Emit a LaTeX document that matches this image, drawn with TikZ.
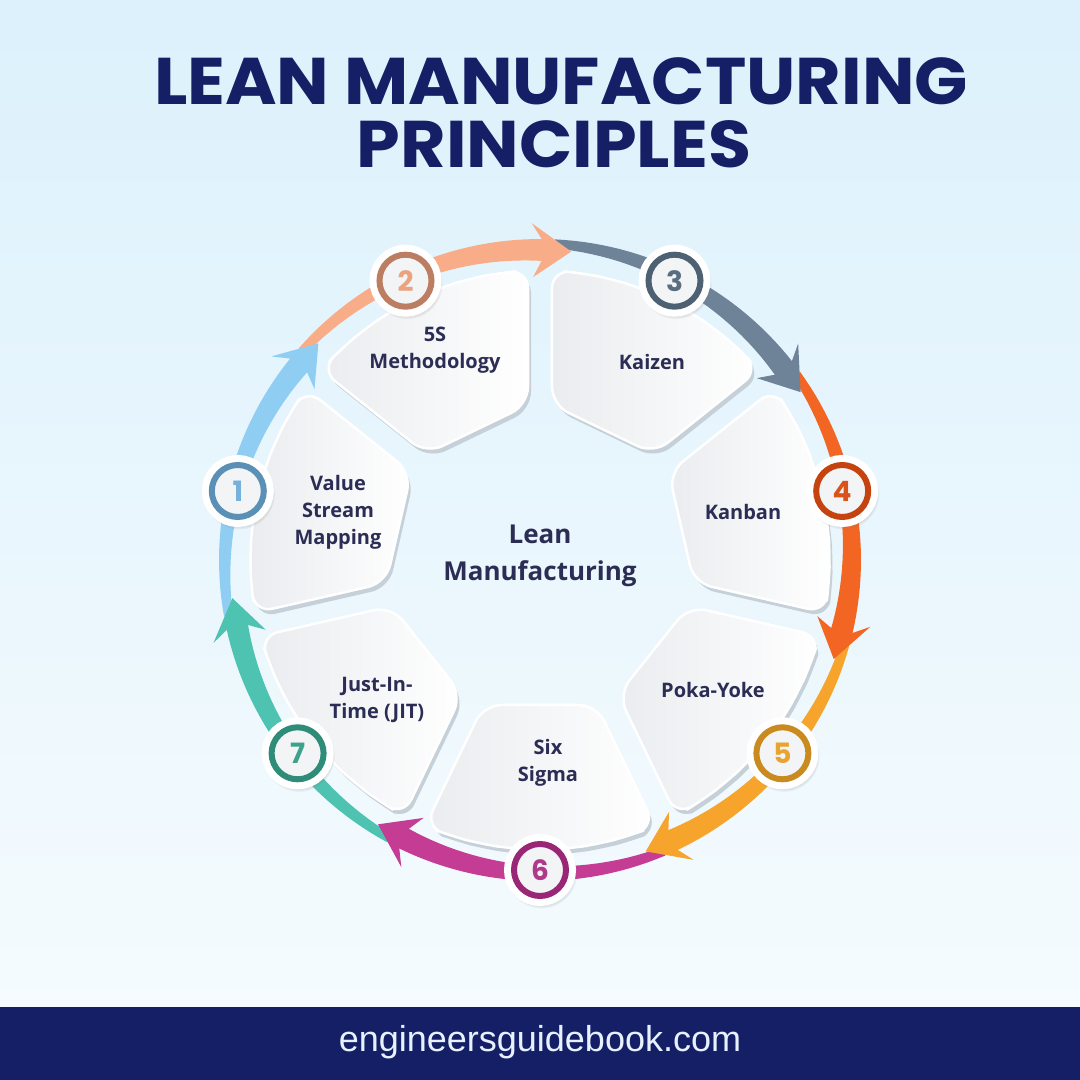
\documentclass[tikz,border=0pt]{standalone}
\usepackage{fontspec}
\setmainfont{Open Sans}
\newfontfamily\titlefont{Poppins}
\newfontfamily\widetitlefont{Poppins}[FakeStretch=1.06]
\newfontfamily\webfont{Liberation Sans}
\usetikzlibrary{shadows}
\pgfdeclarelayer{bglayer}
\pgfdeclarelayer{arclayer}
\pgfdeclarelayer{headlayer}
\pgfdeclarelayer{cardlayer}
\pgfsetlayers{bglayer,arclayer,headlayer,cardlayer,main}
\definecolor{bgtop}{HTML}{DCF1FC}
\definecolor{bgbottom}{HTML}{F5FBFE}
\definecolor{navy}{HTML}{141F66}
\definecolor{inknavy}{HTML}{2B2D55}
\definecolor{webtext}{HTML}{E8F1FF}
\definecolor{cardgray}{HTML}{EAECEF}
\definecolor{cardedge}{HTML}{C6D0D8}
\definecolor{badgefill}{HTML}{F2F4F6}
\definecolor{arcone}{HTML}{8FCDF2}
\definecolor{arctwo}{HTML}{F8AD88}
\definecolor{arcthree}{HTML}{6E8398}
\definecolor{arcfour}{HTML}{F26522}
\definecolor{arcfive}{HTML}{F6A42B}
\definecolor{arcsix}{HTML}{C43C94}
\definecolor{arcseven}{HTML}{4EC3B1}
\definecolor{ringone}{HTML}{5A90B5}
\definecolor{ringtwo}{HTML}{BC7E63}
\definecolor{ringthree}{HTML}{4E6173}
\definecolor{ringfour}{HTML}{C4430F}
\definecolor{ringfive}{HTML}{C98A1F}
\definecolor{ringsix}{HTML}{9A2676}
\definecolor{ringseven}{HTML}{2E8C79}
\definecolor{numone}{HTML}{74B1DB}
\definecolor{numtwo}{HTML}{EBA27F}
\definecolor{numthree}{HTML}{5A6E82}
\definecolor{numfour}{HTML}{D9541A}
\definecolor{numfive}{HTML}{E8A331}
\definecolor{numsix}{HTML}{B03A8A}
\definecolor{numseven}{HTML}{3FA08C}
\newcommand{\cardpath}{(145,-56.5) -- (266.3,-114.9) -- (-17.5:290) -- (-11.67:290) -- (-5.83:290) -- (0:290) -- (5.83:290) -- (11.67:290) -- (17.5:290) -- (266.3,114.9) -- (145,56.5) -- cycle}
\newcommand{\arcbody}{plot[domain=23:-26.5, samples=30] (\x:321) -- plot[domain=-26.5:23, samples=30] (\x:{299+13*(\x+26.5)/49.5}) -- cycle}
\newcommand{\archead}{(-26:321) -- (-24.3:337) -- (-31.5:310) -- (-24.3:283) -- (-26:299) -- cycle}
\tikzstyle{card}=[rounded corners=18, left color=cardgray, right color=white, draw=white, line width=2.5, drop shadow={shadow xshift=3, shadow yshift=-5, opacity=1, fill=cardedge}]
\tikzstyle{cardtext}=[text=inknavy, align=center, font=\bfseries\fontsize{20}{27}\selectfont]
\tikzstyle{badge}=[circle, minimum size=52, inner sep=0pt, line width=6, fill=badgefill, circular drop shadow={shadow scale=1.38, shadow xshift=1, shadow yshift=-2, opacity=0.35}, preaction={draw=white, line width=20}, font=\titlefont\bfseries\fontsize{28}{28}\selectfont]
\tikzstyle{title}=[text=navy, anchor=base, inner sep=0pt, font=\widetitlefont\bfseries\fontsize{66}{66}\selectfont]

\begin{document}
\begin{tikzpicture}[x=1pt, y=1pt]
	\useasboundingbox (0,0) rectangle (1080,1080);
	\begin{pgfonlayer}{bglayer}
		\shade[top color=bgtop, bottom color=bgbottom] (0,73) rectangle (1080,1080);
		\fill[navy] (0,0) rectangle (1080,73);
	\end{pgfonlayer}
	\begin{pgfonlayer}{arclayer}
		\fill[arcone, shift={(540,520)}, rotate=167.14] \arcbody;
		\fill[arctwo, shift={(540,520)}, rotate=115.71] \arcbody;
		\fill[arcthree, shift={(540,520)}, rotate=64.29] \arcbody;
		\fill[arcfour, shift={(540,520)}, rotate=12.86] \arcbody;
		\fill[arcfive, shift={(540,520)}, rotate=-38.57] \arcbody;
		\fill[arcsix, shift={(540,520)}, rotate=-90] \arcbody;
		\fill[arcseven, shift={(540,520)}, rotate=-141.43] \arcbody;
	\end{pgfonlayer}
	\begin{pgfonlayer}{headlayer}
		\fill[arcone, shift={(540,520)}, rotate=167.14] \archead;
		\fill[arctwo, shift={(540,520)}, rotate=115.71] \archead;
		\fill[arcthree, shift={(540,520)}, rotate=64.29] \archead;
		\fill[arcfour, shift={(540,520)}, rotate=12.86] \archead;
		\fill[arcfive, shift={(540,520)}, rotate=-38.57] \archead;
		\fill[arcsix, shift={(540,520)}, rotate=-90] \archead;
		\fill[arcseven, shift={(540,520)}, rotate=-141.43] \archead;
	\end{pgfonlayer}
	\begin{pgfonlayer}{cardlayer}
		\path[card, shift={(540,520)}, rotate=167.14] \cardpath;
		\path[card, shift={(540,520)}, rotate=115.71] \cardpath;
		\path[card, shift={(540,520)}, rotate=64.29] \cardpath;
		\path[card, shift={(540,520)}, rotate=12.86] \cardpath;
		\path[card, shift={(540,520)}, rotate=-38.57] \cardpath;
		\path[card, shift={(540,520)}, rotate=-90] \cardpath;
		\path[card, shift={(540,520)}, rotate=-141.43] \cardpath;
	\end{pgfonlayer}
	\node [style=title] (title) at (561, 975) {LEAN MANUFACTURING};
	\node [style=title] (subtitle) at (554, 912) {PRINCIPLES};
	\node [text=inknavy, align=center, font=\bfseries\fontsize{26}{37}\selectfont] (lean) at (540, 524) {Lean\\Manufacturing};
	\node [style=cardtext] (vsm) at (338, 568) {Value\\Stream\\Mapping};
	\node [style=cardtext] (fives) at (435, 730) {5S\\Methodology};
	\node [style=cardtext] (kaizen) at (652, 718) {Kaizen};
	\node [style=cardtext] (kanban) at (743, 568) {Kanban};
	\node [style=cardtext] (poka) at (713, 390) {Poka-Yoke};
	\node [style=cardtext] (sigma) at (548, 317) {Six\\Sigma};
	\node [style=cardtext] (jit) at (377, 380) {Just-In-\\Time (JIT)};
	\node [style=badge, draw=ringone, text=numone] (1) at (237.8, 589.0) {1};
	\node [style=badge, draw=ringtwo, text=numtwo] (2) at (405.5, 799.3) {2};
	\node [style=badge, draw=ringthree, text=numthree] (3) at (674.5, 799.3) {3};
	\node [style=badge, draw=ringfour, text=numfour] (4) at (842.2, 589.0) {4};
	\node [style=badge, draw=ringfive, text=numfive] (5) at (782.4, 326.7) {5};
	\node [style=badge, draw=ringsix, text=numsix] (6) at (540, 210) {6};
	\node [style=badge, draw=ringseven, text=numseven] (7) at (297.6, 326.7) {7};
	\node [text=webtext, font=\webfont\fontsize{36}{36}\selectfont] (web) at (540, 38) {engineersguidebook.com};
\end{tikzpicture}
\end{document}
